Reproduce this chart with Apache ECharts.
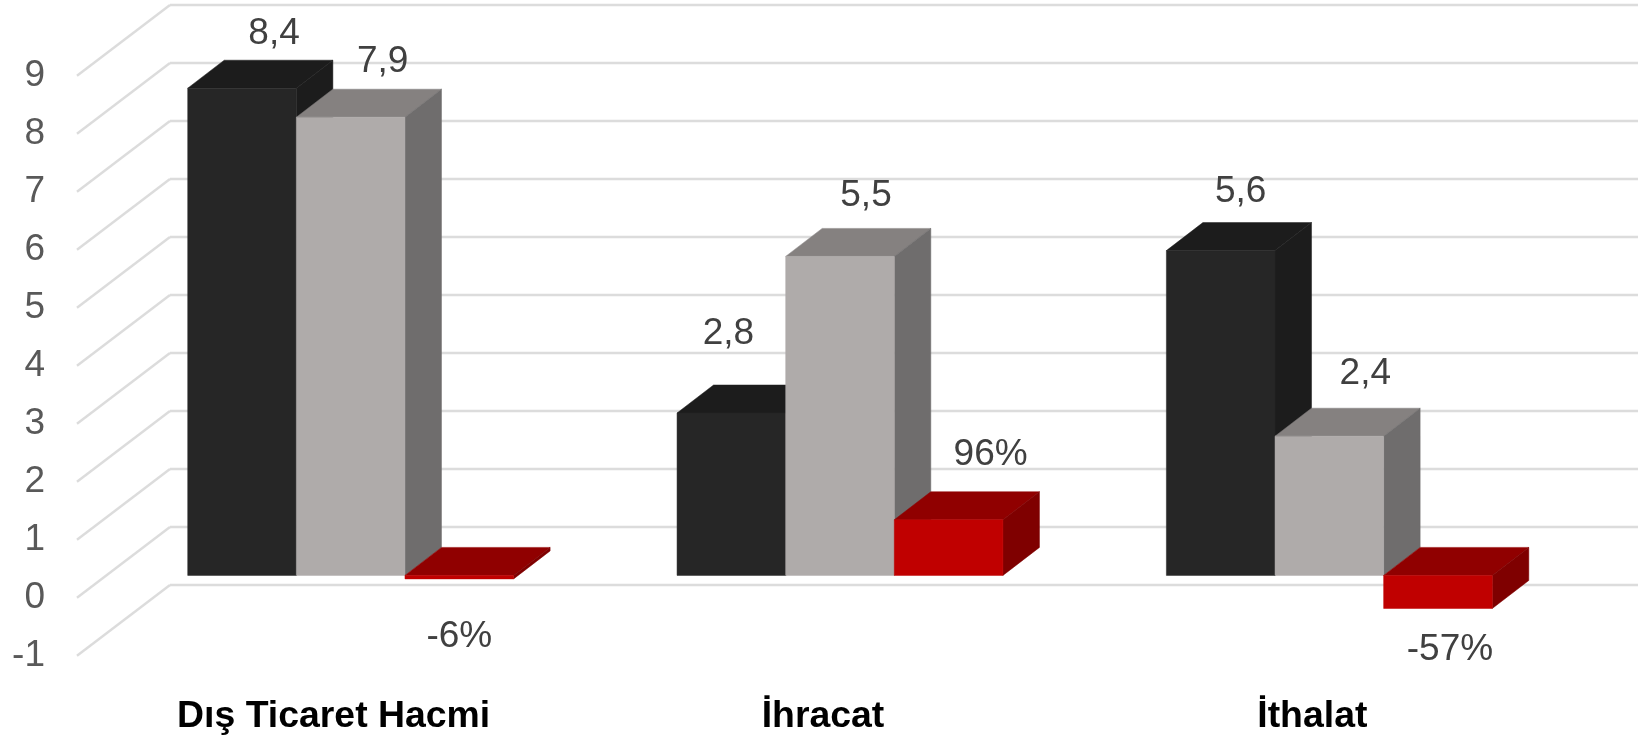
<!DOCTYPE html>
<html><head><meta charset="utf-8">
<style>html,body{margin:0;padding:0;background:#fff}#c{width:1643px;height:737px}</style>
<script src="https://cdn.jsdelivr.net/npm/echarts@6/dist/echarts.min.js"></script>
</head><body><div id="c"></div>
<script>
const categories = ['Dış Ticaret Hacmi', 'İhracat', 'İthalat'];
const darkValues = [8.4, 2.8, 5.6];
const greyValues = [7.9, 5.5, 2.4];
const changeValues = [-0.06, 0.96, -0.57];
const yTicks = [-1, 0, 1, 2, 3, 4, 5, 6, 7, 8, 9];

const darkLabelShift = [[32, -54], [-3, -79], [20, -58.5]];
const greyLabelShift = [[32, -55.5], [26, -61], [36, -62]];
const changeLabelShift = [[0, 61], [42, -65], [12, 74]];

const FONT = '"Liberation Sans", Arial, sans-serif';
const DEPTH_X = 36.5, DEPTH_Y = 28;
const WALL_X = 93, WALL_Y = 70.7;
const BAR_RATIO = 0.222;

const comma = v => v.toFixed(1).replace('.', ',');
const pct = v => Math.round(v * 100) + '%';

function barSeries(name, values, slot, colors, shifts, fmt) {
  return {
    name, type: 'custom', xAxisIndex: 0, yAxisIndex: 0, clip: false, z: 5,
    data: values.map((v, i) => [i, v]),
    encode: { x: 0, y: 1 },
    renderItem(params, api) {
      const cat = api.value(0), v = api.value(1);
      const band = api.size([1, 0])[0];
      const w = band * BAR_RATIO;
      const center = api.coord([cat, 0])[0];
      const x0 = center + (slot - 1.5) * w, x1 = x0 + w;
      const yZero = api.coord([cat, 0])[1];
      const yVal = api.coord([cat, v])[1];
      const top = Math.min(yZero, yVal), bot = Math.max(yZero, yVal);
      const s = shifts[params.dataIndex];
      const poly = (points, fill) => ({ type: 'polygon', shape: { points }, style: { fill, stroke: fill, lineWidth: 0.5 } });
      return {
        type: 'group',
        children: [
          poly([[x0, top], [x1, top], [x1 + DEPTH_X, top - DEPTH_Y], [x0 + DEPTH_X, top - DEPTH_Y]], colors.top),
          poly([[x1, top], [x1, bot], [x1 + DEPTH_X, bot - DEPTH_Y], [x1 + DEPTH_X, top - DEPTH_Y]], colors.side),
          poly([[x0, top], [x1, top], [x1, bot], [x0, bot]], colors.front),
          { type: 'text', z2: 50, style: {
              x: (x0 + x1) / 2 + s[0], y: top + s[1], text: fmt(v),
              font: '37px ' + FONT, fill: '#404040', align: 'center', verticalAlign: 'middle' } }
        ]
      };
    }
  };
}

const option = {
  animation: false,
  backgroundColor: '#fff',
  grid: [
    { left: 106, top: 53.4, width: 1468, height: 580 },
    { left: 77, top: 75.7, width: 1468, height: 580 },
    { left: 170, top: 5, width: 1468, height: 580 },
    { left: 89, top: 75.7, width: 1468, height: 580 }
  ],
  xAxis: [
    { gridIndex: 0, type: 'category', data: categories, show: false },
    { gridIndex: 1, type: 'value', min: 0, max: 1, show: false },
    { gridIndex: 2, type: 'value', min: 0, max: 1, show: false },
    { gridIndex: 3, type: 'category', data: categories, position: 'bottom',
      axisLine: { show: false }, axisTick: { show: false }, splitLine: { show: false },
      axisLabel: { margin: 42, fontFamily: FONT, fontSize: 37.4, fontWeight: 'bold', color: '#000' } }
  ],
  yAxis: [
    { gridIndex: 0, type: 'value', min: -1, max: 9, interval: 1, show: false },
    { gridIndex: 1, type: 'value', min: -1, max: 9, interval: 1, position: 'left',
      axisLine: { show: false }, axisTick: { show: false }, splitLine: { show: false },
      axisLabel: { margin: 32, fontFamily: FONT, fontSize: 37, color: '#595959' } },
    { gridIndex: 2, type: 'value', min: -1, max: 9, interval: 1,
      axisLine: { show: false }, axisTick: { show: false }, axisLabel: { show: false },
      splitLine: { show: true, lineStyle: { color: '#dcdcdc', width: 2.4 } } },
    { gridIndex: 3, type: 'value', min: -1, max: 9, interval: 1, show: false }
  ],
  series: [
    {
      type: 'custom', xAxisIndex: 1, yAxisIndex: 1, clip: false, z: 1,
      data: yTicks.map(t => [0, t]),
      encode: { x: 0, y: 1 },
      renderItem(params, api) {
        const p = api.coord([0, api.value(1)]);
        return { type: 'line', shape: { x1: p[0], y1: p[1], x2: p[0] + WALL_X, y2: p[1] - WALL_Y },
          style: { stroke: '#dcdcdc', lineWidth: 2.4, fill: null } };
      }
    },
    barSeries('dark', darkValues, 0, { front: '#262626', top: '#1c1c1c', side: '#1c1c1c' }, darkLabelShift, comma),
    barSeries('grey', greyValues, 1, { front: '#afabaa', top: '#858180', side: '#6f6d6d' }, greyLabelShift, comma),
    barSeries('change', changeValues, 2, { front: '#c00000', top: '#900000', side: '#7f0000' }, changeLabelShift, pct)
  ]
};
const chart = echarts.init(document.getElementById('c'), null, { renderer: 'canvas' });
chart.setOption(option);
</script></body></html>
